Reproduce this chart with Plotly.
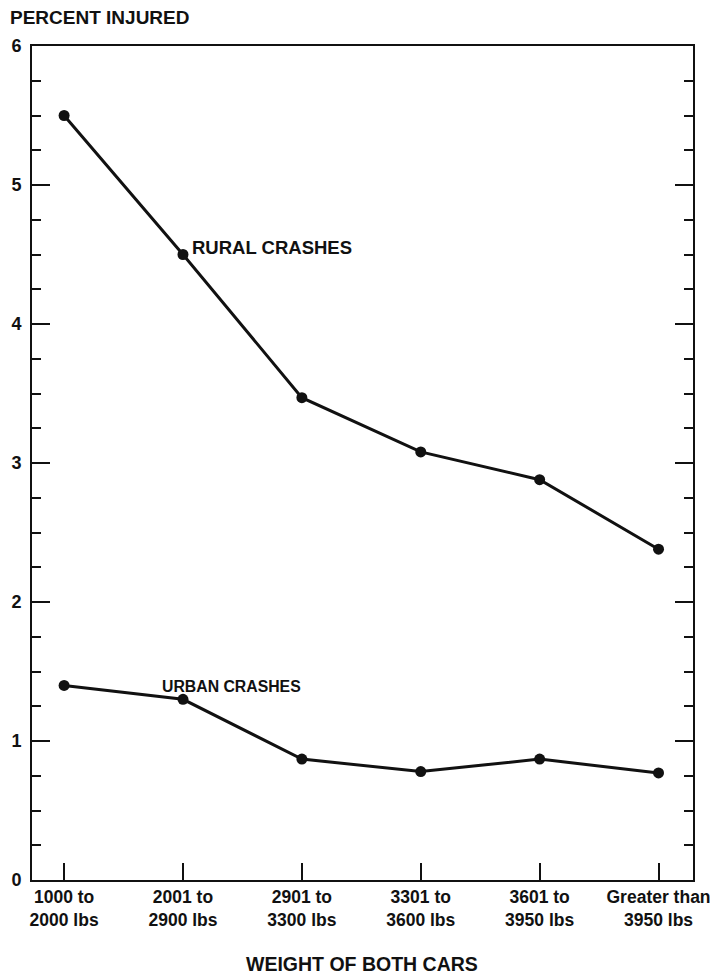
import plotly.graph_objects as go

categories = ["1000 to<br>2000 lbs", "2001 to<br>2900 lbs", "2901 to<br>3300 lbs",
              "3301 to<br>3600 lbs", "3601 to<br>3950 lbs", "Greater than<br>3950 lbs"]
rural = [5.5, 4.5, 3.47, 3.08, 2.88, 2.38]
urban = [1.4, 1.3, 0.87, 0.78, 0.87, 0.77]
y_ticks = [0, 1, 2, 3, 4, 5, 6]

ink = "#111111"
fam = "Liberation Sans, Arial, sans-serif"
fig = go.Figure()
for name, vals in [("RURAL CRASHES", rural), ("URBAN CRASHES", urban)]:
    fig.add_trace(go.Scatter(x=categories, y=vals, mode="lines+markers", name=name,
                             line=dict(color=ink, width=3),
                             marker=dict(color=ink, size=11)))

fig.add_annotation(x=1.06, y=4.55, text="<b>RURAL CRASHES</b>", showarrow=False,
                   xanchor="left", yanchor="middle", font=dict(size=18.5, color=ink))
fig.add_annotation(x=0.81, y=1.39, text="<b>URBAN CRASHES</b>", showarrow=False,
                   xanchor="left", yanchor="middle", font=dict(size=15.8, color=ink))
fig.add_annotation(xref="paper", yref="paper", x=-24/661, y=(834 + 28) / 834,
                   xanchor="left", yanchor="middle",
                   text="<b>PERCENT INJURED</b>", showarrow=False, font=dict(size=19, color=ink))
fig.add_annotation(xref="paper", yref="paper", x=(362 - 32) / 661, y=-84 / 834,
                   xanchor="center", yanchor="middle",
                   text="<b>WEIGHT OF BOTH CARS</b>", showarrow=False, font=dict(size=19.5, color=ink))

fig.update_layout(
    width=710, height=966,
    margin=dict(l=24, r=25, t=38, b=94, autoexpand=False),
    paper_bgcolor="white", plot_bgcolor="white",
    showlegend=False,
    font=dict(family=fam, color=ink),
    xaxis=dict(type="category", range=[-0.27, 5.29], showgrid=False, zeroline=False,
               automargin=False,
               showline=True, linecolor=ink, linewidth=2, mirror=True,
               ticks="inside", ticklen=17, tickwidth=2, tickcolor=ink,
               tickfont=dict(size=17.5, family=fam, weight="bold")),
    yaxis=dict(range=[0, 6], tickvals=y_ticks, showgrid=False, zeroline=False,
               automargin=False,
               showline=True, linecolor=ink, linewidth=2, mirror="ticks",
               ticks="inside", ticklen=18, tickwidth=2, tickcolor=ink,
               ticklabelstandoff=5,
               tickfont=dict(size=18, weight="bold"),
               minor=dict(dtick=0.25, ticks="inside", ticklen=9, tickwidth=2, tickcolor=ink,
                          showgrid=False)),
)

fig.write_html("out.html")
